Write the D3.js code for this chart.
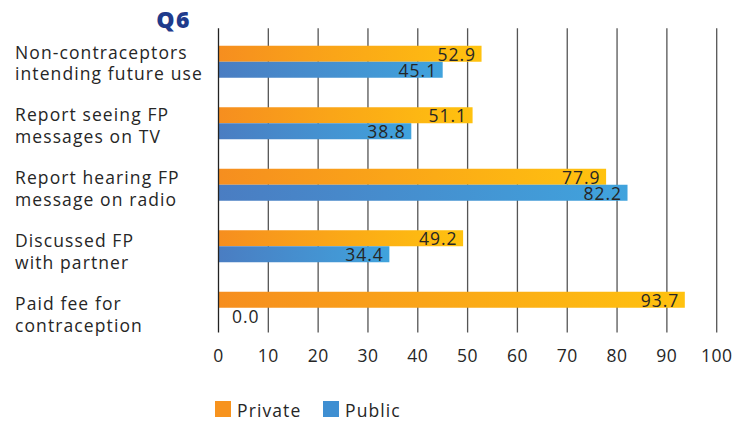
<!DOCTYPE html>
<html>
<head>
<meta charset="utf-8">
<script src="https://cdn.jsdelivr.net/npm/d3@7"></script>
<style>
  html, body { margin: 0; padding: 0; background: #fff; }
  svg { display: block; font-family: "Open Sans", "DejaVu Sans", sans-serif; }
</style>
</head>
<body>
<svg id="chart" width="745" height="421"></svg>
<script>
// Indicator categories (each label broken into two lines)
const categories = [
  ["Non-contraceptors", "intending future use"],
  ["Report seeing FP", "messages on TV"],
  ["Report hearing FP", "message on radio"],
  ["Discussed FP", "with partner"],
  ["Paid fee for", "contraception"]
];
const seriesNames = ["Private", "Public"];
const privateValues = [52.9, 51.1, 77.9, 49.2, 93.7];
const publicValues = [45.1, 38.8, 82.2, 34.4, 0.0];
const xTicks = [0, 10, 20, 30, 40, 50, 60, 70, 80, 90, 100];
const title = "Q6";

const svg = d3.select("#chart");

const plot = { left: 218.5, right: 716.7, top: 28.3, bottom: 332.4 };
const textColor = "#262626";
const fontSize = 17.5;
const spacing = "1.1px";

const x = d3.scaleLinear().domain([0, 100]).range([plot.left, plot.right]);
const y = d3.scaleBand().domain(d3.range(categories.length)).range([31, 338.5]);
const inner = d3.scaleBand().domain(seriesNames).range([0, 32]);
// Baseline of the first line of each category label
const labelY = d3.scaleLinear().domain([0, categories.length - 1]).range([58.5, 310]);

// Bar gradients
const defs = svg.append("defs");
const grads = {
  Private: ["#f68e1f", "#ffc20f"],
  Public: ["#4a7dc2", "#40a3dd"]
};
Object.entries(grads).forEach(([k, [c0, c1]]) => {
  const g = defs.append("linearGradient").attr("id", "g-" + k)
    .attr("x1", "0%").attr("x2", "100%").attr("y1", "0%").attr("y2", "0%");
  g.append("stop").attr("offset", "0%").attr("stop-color", c0);
  g.append("stop").attr("offset", "100%").attr("stop-color", c1);
});

// Vertical gridlines
svg.append("g").selectAll("line").data(xTicks.slice(1)).join("line")
  .attr("x1", d => x(d)).attr("x2", d => x(d))
  .attr("y1", plot.top).attr("y2", plot.bottom)
  .attr("stroke", "#555").attr("stroke-width", 1.3);

// Bars
const rows = categories.map((c, i) => ({ i, vals: [
  { s: "Private", v: privateValues[i] },
  { s: "Public", v: publicValues[i] }
]}));

const groups = svg.append("g").selectAll("g").data(rows).join("g")
  .attr("transform", d => `translate(0,${y(d.i) + y.bandwidth() / 2 - 16})`);

groups.selectAll("rect").data(d => d.vals).join("rect")
  .attr("x", x(0) - 0.5)
  .attr("y", d => inner(d.s))
  .attr("width", d => Math.max(0, x(d.v) - x(0)))
  .attr("height", inner.bandwidth())
  .attr("fill", d => `url(#g-${d.s})`);

// Value labels at inside end (small values sit just right of the axis)
groups.selectAll("text").data(d => d.vals).join("text")
  .attr("x", d => (x(d.v) - x(0) > 45) ? x(d.v) - 6 : x(0) + 41)
  .attr("y", d => inner(d.s) + inner.bandwidth() / 2 + 1)
  .attr("dy", "0.35em")
  .attr("text-anchor", "end")
  .attr("font-size", fontSize)
  .attr("letter-spacing", "1px")
  .attr("fill", textColor)
  .text(d => d.v.toFixed(1));

// Zero axis line
svg.append("line")
  .attr("x1", x(0)).attr("x2", x(0))
  .attr("y1", plot.top).attr("y2", plot.bottom)
  .attr("stroke", "#222").attr("stroke-width", 1.3);

// Category labels, left aligned
const catG = svg.append("g").selectAll("text").data(categories).join("text")
  .attr("font-size", fontSize)
  .attr("letter-spacing", spacing)
  .attr("fill", textColor)
  .attr("transform", (d, i) => `translate(15,${labelY(i)})`);
catG.selectAll("tspan").data(d => d).join("tspan")
  .attr("x", 0)
  .attr("y", (d, j) => j * 21.8)
  .text(d => d);

// X axis tick labels
svg.append("g").selectAll("text").data(xTicks).join("text")
  .attr("x", d => x(d))
  .attr("y", 356)
  .attr("dy", "0.35em")
  .attr("text-anchor", "middle")
  .attr("font-size", fontSize)
  .attr("letter-spacing", "0.5px")
  .attr("fill", textColor)
  .text(d => d);

// Title
svg.append("text")
  .attr("x", 191).attr("y", 28)
  .attr("text-anchor", "end")
  .attr("font-size", 23)
  .attr("font-weight", 800)
  .attr("letter-spacing", "1.5px")
  .attr("fill", "#1f3b8c")
  .text(title);

// Legend
const legend = svg.append("g").selectAll("g").data(seriesNames).join("g")
  .attr("transform", (d, i) => `translate(${i === 0 ? 215 : 323},401)`);
legend.append("rect").attr("width", 16).attr("height", 16)
  .attr("fill", d => d === "Private" ? "#f7931e" : "#3f8fd2");
legend.append("text").attr("x", 22).attr("y", 15.7)
  .attr("font-size", fontSize).attr("letter-spacing", spacing)
  .attr("fill", textColor).text(d => d);
</script>
</body>
</html>
